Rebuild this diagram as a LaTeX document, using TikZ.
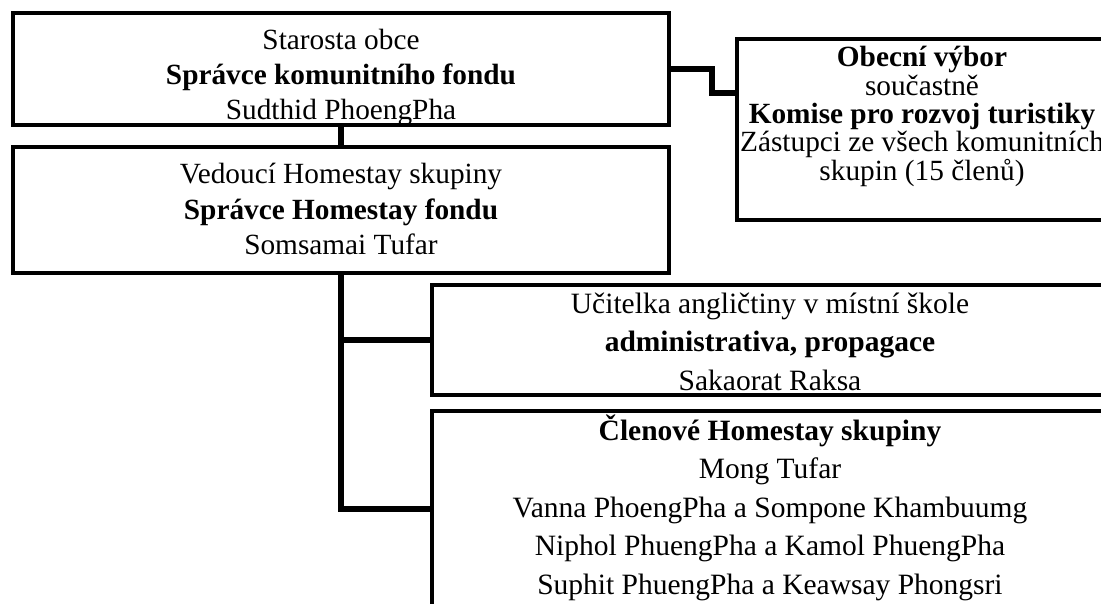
\documentclass[tikz,border=0pt]{standalone}
\usepackage{fontspec}
\setmainfont{Liberation Serif}
\begin{document}
\begin{tikzpicture}[y=1pt, x=1pt, yscale=-1, inner sep=0pt, outer sep=0pt,
  ramec/.style={draw=black, line width=3.5pt, anchor=north west, align=center, minimum height=0pt},
  spoj/.style={draw=black, line width=5.5pt}]
\useasboundingbox (0,0) rectangle (1101,604);
\clip (0,0) rectangle (1101,604);
  \node[ramec, minimum width=656pt, text height=107pt, text depth=5pt, font=\fontsize{29.3}{35}\selectfont] (starosta) at (13,13) {Starosta obce\\\textbf{Správce komunitního fondu}\\Sudthid PhoengPha};
  \node[ramec, minimum width=656pt, text height=108pt, text depth=18pt, font=\fontsize{29.3}{35.5}\selectfont] (vedouci) at (13,147) {Vedoucí Homestay skupiny\\\textbf{Správce Homestay fondu}\\Somsamai Tufar};
  \node[ramec, minimum width=370pt, text height=141.2pt, text depth=39.8pt, font=\fontsize{29.3}{28.3}\selectfont] (vybor) at (737,39) {\textbf{Obecní výbor}\\součastně\\\textbf{Komise pro rozvoj turistiky}\\Zástupci ze všech komunitních\\skupin (15 členů)};
  \node[ramec, minimum width=676pt, text height=105pt, text depth=5pt, font=\fontsize{29.5}{38.5}\selectfont] (ucitelka) at (432,285) {Učitelka angličtiny v místní škole\\\textbf{administrativa, propagace}\\Sakaorat Raksa};
  \node[ramec, minimum width=676pt, text height=183pt, text depth=31pt, font=\fontsize{29.5}{38.5}\selectfont] (clenove) at (432,411) {\textbf{Členové Homestay skupiny}\\Mong Tufar\\Vanna PhoengPha a Sompone Khambuumg\\Niphol PhuengPha a Kamol PhuengPha\\Suphit PhuengPha a Keawsay Phongsri};
  \coordinate (zlom) at (712,93);
  \coordinate (uzel) at (341,509);
  \path[spoj] (starosta.south) -- (vedouci.north);
  \path[spoj] (starosta.east) -| (zlom) -- (zlom -| vybor.west);
  \path[spoj] (vedouci.south) -- (uzel) -- (uzel -| clenove.west);
  \path[spoj] (ucitelka.west -| uzel) -- (ucitelka.west);
\end{tikzpicture}
\end{document}
